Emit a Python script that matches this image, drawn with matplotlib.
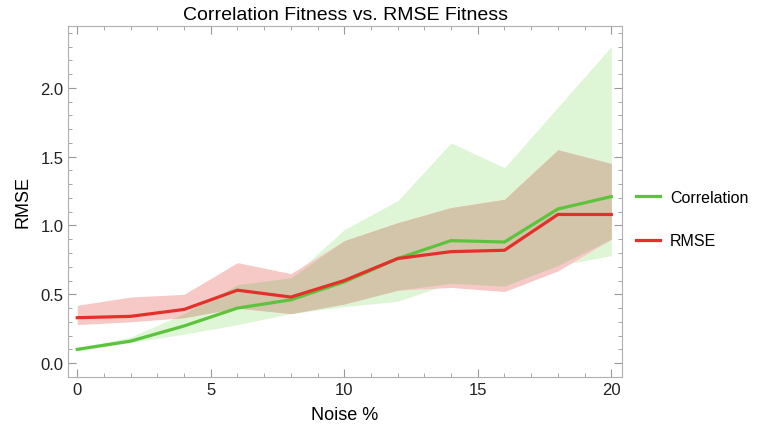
import numpy as np
import matplotlib.pyplot as plt
from matplotlib.ticker import MultipleLocator

plt.rcParams['font.family'] = ['Liberation Sans', 'DejaVu Sans']

noise = [0, 2, 4, 6, 8, 10, 12, 14, 16, 18, 20]

corr_mean = [0.10, 0.16, 0.27, 0.40, 0.46, 0.59, 0.76, 0.89, 0.88, 1.12, 1.21]
corr_low = [0.09, 0.15, 0.21, 0.28, 0.36, 0.41, 0.45, 0.58, 0.56, 0.71, 0.78]
corr_high = [0.11, 0.19, 0.36, 0.57, 0.62, 0.97, 1.18, 1.60, 1.42, 1.86, 2.30]

rmse_mean = [0.33, 0.34, 0.39, 0.53, 0.48, 0.60, 0.76, 0.81, 0.82, 1.08, 1.08]
rmse_low = [0.28, 0.30, 0.33, 0.40, 0.36, 0.43, 0.53, 0.55, 0.52, 0.67, 0.90]
rmse_high = [0.42, 0.48, 0.50, 0.73, 0.65, 0.89, 1.02, 1.13, 1.19, 1.55, 1.45]

green = '#5cc43c'
red = '#e4302a'

fig = plt.figure(figsize=(7.66, 4.27), dpi=100)
ax = fig.add_axes([0.089, 0.115, 0.723, 0.822])

x = np.array(noise)
ov_low = np.maximum(corr_low, rmse_low)
ov_high = np.minimum(corr_high, rmse_high)

# bands, then the overlap in brown
ax.fill_between(x, corr_low, corr_high, color='#dff6d6', lw=0)
ax.fill_between(x, rmse_low, rmse_high, color='#f6c9c7', lw=0)
ax.fill_between(x, ov_low, ov_high, where=ov_high > ov_low, interpolate=True,
                color='#d3c5aa', lw=0)

ax.plot(x, corr_mean, color=green, lw=2.3, label='Correlation')
ax.plot(x, rmse_mean, color=red, lw=2.3, label='RMSE')

ax.set_xlim(-0.34, 20.4)
ax.set_ylim(-0.1, 2.45)
ax.xaxis.set_major_locator(MultipleLocator(5))
ax.xaxis.set_minor_locator(MultipleLocator(1))
ax.yaxis.set_major_locator(MultipleLocator(0.5))
ax.yaxis.set_minor_locator(MultipleLocator(0.1))
ax.yaxis.set_major_formatter(plt.FormatStrFormatter('%.1f'))

for s in ax.spines.values():
    s.set_color('#b0b0b0')
ax.tick_params(which='both', direction='in', top=True, right=True,
               color='#999999', labelsize=12, labelcolor='#222222')
ax.tick_params(which='major', length=6)
ax.tick_params(which='minor', length=3)

ax.set_title('Correlation Fitness vs. RMSE Fitness', fontsize=14, pad=5)
ax.set_xlabel('Noise %', fontsize=13, labelpad=7)
ax.set_ylabel('RMSE', fontsize=13, labelpad=6)

ax.legend(loc='center left', bbox_to_anchor=(1.0, 0.45), frameon=False,
          fontsize=11.5, handlelength=1.5, handletextpad=0.6, labelspacing=1.8)

fig.savefig('out.png', dpi=100)
